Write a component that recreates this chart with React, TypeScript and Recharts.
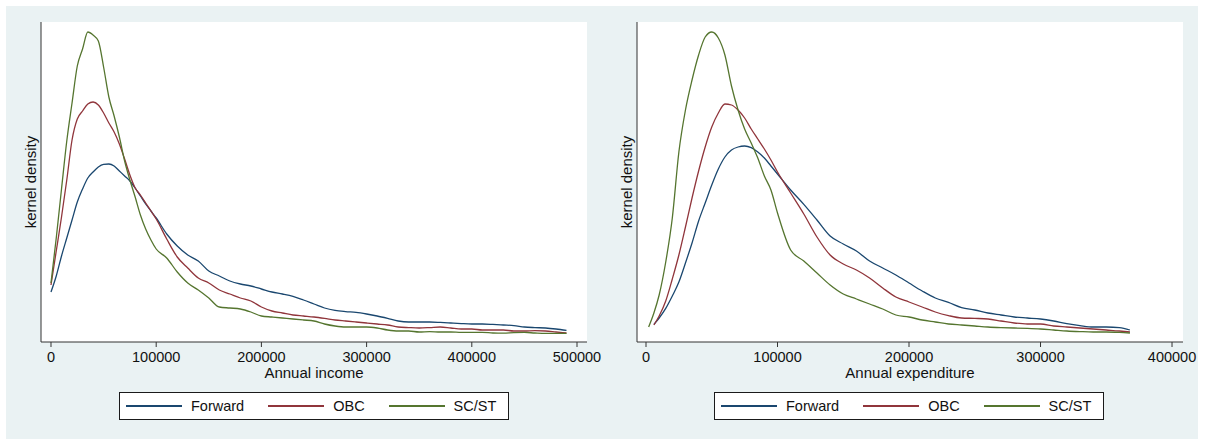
import { LineChart, Line, XAxis, YAxis, CartesianGrid, Legend } from 'recharts';

// kernel density in units of 1e-6
const groups = ['Forward', 'OBC', 'SC/ST'];
const groupKeys = ['forward', 'obc', 'scst'];
const groupColors = ['#1a476f', '#90353b', '#55752f'];

const incomeX = [
  0, 5000, 10000, 15000, 20000, 25000, 30000, 35000, 40000, 45000, 50000,
  55000, 60000, 65000, 70000, 75000, 80000, 85000, 90000, 95000, 100000,
  110000, 120000, 130000, 140000, 150000, 160000, 170000, 180000, 190000, 200000,
  210000, 220000, 230000, 240000, 250000, 260000, 270000, 280000, 290000, 300000,
  310000, 320000, 330000, 340000, 350000, 360000, 370000, 380000, 390000, 400000,
  410000, 420000, 430000, 440000, 450000, 460000, 470000, 480000, 490000,
];
const incomeForward = [
  2.5, 3.3, 4.3, 5.2, 6.1, 7.0, 7.65, 8.2, 8.5, 8.75, 8.88,
  8.9, 8.8, 8.55, 8.3, 8.05, 7.7, 7.3, 6.9, 6.55, 6.2,
  5.4, 4.8, 4.35, 4.05, 3.55, 3.3, 3.05, 2.9, 2.8, 2.65,
  2.5, 2.4, 2.28, 2.1, 1.9, 1.7, 1.58, 1.52, 1.48, 1.4,
  1.3, 1.18, 1.05, 1.0, 1.0, 1.0, 0.98, 0.95, 0.92, 0.9,
  0.9, 0.88, 0.85, 0.82, 0.75, 0.72, 0.7, 0.65, 0.58,
];
const incomeObc = [
  2.85, 4.55, 6.25, 8.1, 10.1, 11.15, 11.55, 11.9, 12.0, 11.85, 11.45,
  10.95, 10.5, 9.9, 9.15, 8.35, 7.7, 7.35, 6.95, 6.55, 6.15,
  5.15, 4.25, 3.7, 3.2, 2.95, 2.6, 2.4, 2.2, 2.05, 1.75,
  1.55, 1.45, 1.35, 1.3, 1.25, 1.18, 1.1, 1.05, 1.0, 0.95,
  0.9, 0.85, 0.75, 0.72, 0.7, 0.72, 0.75, 0.7, 0.65, 0.65,
  0.6, 0.6, 0.6, 0.55, 0.55, 0.57, 0.55, 0.5, 0.45,
];
const incomeScst = [
  2.95, 5.2, 7.65, 10.05, 11.95, 13.8, 14.65, 15.5, 15.35, 15.05, 13.75,
  12.25, 11.3, 10.25, 9.05, 8.1, 7.25, 6.35, 5.65, 5.1, 4.65,
  4.2, 3.5, 2.95, 2.6, 2.2, 1.75, 1.7, 1.65, 1.5, 1.3,
  1.25, 1.2, 1.15, 1.1, 1.05, 0.9, 0.8, 0.75, 0.75, 0.75,
  0.7, 0.6, 0.55, 0.55, 0.5, 0.52, 0.5, 0.5, 0.48, 0.48,
  0.48, 0.45, 0.44, 0.47, 0.48, 0.45, 0.43, 0.43, 0.43,
];

const expX = [
  2000, 6000, 10000, 15000, 20000, 25000, 30000, 35000, 40000, 45000, 50000,
  55000, 60000, 65000, 70000, 75000, 80000, 85000, 90000, 95000, 100000,
  110000, 120000, 130000, 140000, 150000, 160000, 170000, 180000, 190000, 200000,
  210000, 220000, 230000, 240000, 250000, 260000, 270000, 280000, 290000, 300000,
  310000, 320000, 330000, 340000, 350000, 360000, 368000,
];
const expForward = [
  null, 0.88, 1.2, 1.68, 2.3, 3.0, 3.95, 4.95, 6.05, 6.95, 7.85,
  8.65, 9.25, 9.6, 9.75, 9.8, 9.72, 9.5, 9.2, 8.8, 8.4,
  7.6, 6.88, 6.1, 5.3, 4.9, 4.55, 4.05, 3.7, 3.35, 2.95,
  2.55, 2.2, 1.98, 1.72, 1.6, 1.45, 1.35, 1.25, 1.2, 1.15,
  1.05, 0.92, 0.82, 0.75, 0.75, 0.72, 0.6,
];
const expObc = [
  null, 0.85, 1.3, 2.05, 3.15, 4.35, 5.75, 7.2, 8.55, 9.75, 10.75,
  11.45, 11.9, 11.85, 11.6, 11.2, 10.65, 10.15, 9.65, 9.1, 8.5,
  7.45, 6.4, 5.25, 4.35, 3.9, 3.6, 3.2, 2.7, 2.25, 2.0,
  1.75, 1.5, 1.32, 1.2, 1.18, 1.15, 1.05, 0.95, 0.9, 0.9,
  0.8, 0.75, 0.7, 0.65, 0.6, 0.55, 0.5,
];
const expScst = [
  0.75, 1.45, 2.35, 4.0, 6.2, 9.5, 11.6, 13.1, 14.35, 15.25, 15.5,
  15.2, 14.35, 12.8, 11.6, 10.65, 9.95, 9.2, 8.3, 7.6, 6.45,
  4.6, 4.05, 3.45, 2.85, 2.4, 2.15, 1.9, 1.65, 1.35, 1.25,
  1.1, 1.0, 0.9, 0.85, 0.8, 0.75, 0.72, 0.7, 0.68, 0.65,
  0.6, 0.55, 0.52, 0.5, 0.5, 0.48, 0.45,
];

const incomeTicks = [0, 100000, 200000, 300000, 400000, 500000];
const expTicks = [0, 100000, 200000, 300000, 400000];

const FONT = '"Liberation Sans", Arial, Helvetica, sans-serif';
const INK = '#111';
const AXIS = '#333';

function buildRows(xs: number[], fwd: (number | null)[], obc: (number | null)[], sc: (number | null)[]) {
  return xs.map((x, i) => ({ x, forward: fwd[i], obc: obc[i], scst: sc[i] }));
}

function StataLegend() {
  return (
    <div
      style={{
        boxSizing: 'border-box',
        width: 390,
        height: 28,
        border: '1px solid #1a1a1a',
        background: '#fff',
        display: 'flex',
        alignItems: 'center',
        paddingLeft: 6,
        fontFamily: FONT,
        fontSize: 14.5,
        color: INK,
        whiteSpace: 'nowrap',
      }}
    >
      {groups.map((g, i) => (
        <div key={g} style={{ display: 'flex', alignItems: 'center', marginRight: i < groups.length - 1 ? 24 : 0 }}>
          <span style={{ display: 'inline-block', width: 56, height: 1.3, background: groupColors[i] }} />
          <span style={{ marginLeft: 9 }}>{g}</span>
        </div>
      ))}
    </div>
  );
}

interface PanelProps {
  rows: { x: number; forward: number | null; obc: number | null; scst: number | null }[];
  domain: [number, number];
  ticks: number[];
  xLabel: string;
  marginLeft: number;
  marginRight: number;
  legendLeft: number;
}

function DensityPanel({ rows, domain, ticks, xLabel, marginLeft, marginRight, legendLeft }: PanelProps) {
  return (
    <LineChart
      width={607}
      height={439}
      data={rows}
      margin={{ top: 22, right: marginRight, bottom: 47, left: marginLeft }}
    >
      <CartesianGrid horizontal={false} vertical={false} fill="#fff" stroke="none" />
      <XAxis
        type="number"
        dataKey="x"
        domain={domain}
        ticks={ticks}
        interval={0}
        height={50}
        tickSize={5}
        tickMargin={5}
        axisLine={{ stroke: AXIS }}
        tickLine={{ stroke: AXIS }}
        tick={{ fill: INK, fontSize: 14.5, fontFamily: FONT }}
        label={{ value: xLabel, position: 'insideTop', offset: 25, fill: INK, fontSize: 15, fontFamily: FONT }}
      />
      <YAxis
        type="number"
        domain={[0, 16]}
        width={20}
        tick={false}
        tickLine={false}
        axisLine={{ stroke: AXIS }}
        label={{ value: 'kernel density', angle: -90, position: 'center', fill: INK, fontSize: 15, fontFamily: FONT }}
      />
      <Legend
        layout="horizontal"
        verticalAlign="middle"
        align="center"
        wrapperStyle={{ left: legendLeft, top: 392, width: 390, height: 28 }}
        content={() => <StataLegend />}
      />
      {groupKeys.map((k, i) => (
        <Line
          key={k}
          name={groups[i]}
          dataKey={k}
          type="monotone"
          stroke={groupColors[i]}
          strokeWidth={1.3}
          dot={false}
          activeDot={false}
          connectNulls={false}
          isAnimationActive={false}
        />
      ))}
    </LineChart>
  );
}

export default function App() {
  const incomeRows = buildRows(incomeX, incomeForward, incomeObc, incomeScst);
  const expRows = buildRows(expX, expForward, expObc, expScst);
  return (
    <div
      style={{
        position: 'absolute',
        left: 0,
        top: 0,
        width: 1207,
        height: 439,
        background: '#fff',
        fontFamily: FONT,
        overflow: 'hidden',
      }}
    >
      <div style={{ position: 'absolute', left: 6, top: 6, width: 1192, height: 433, background: '#eaf2f3' }} />
      <div style={{ position: 'absolute', left: 0, top: 0 }}>
        <DensityPanel
          rows={incomeRows}
          domain={[-9500, 509500]}
          ticks={incomeTicks}
          xLabel="Annual income"
          marginLeft={21}
          marginRight={20}
          legendLeft={119}
        />
      </div>
      <div style={{ position: 'absolute', left: 600, top: 0 }}>
        <DensityPanel
          rows={expRows}
          domain={[-6850, 408350]}
          ticks={expTicks}
          xLabel="Annual expenditure"
          marginLeft={17}
          marginRight={24}
          legendLeft={114}
        />
      </div>
    </div>
  );
}
